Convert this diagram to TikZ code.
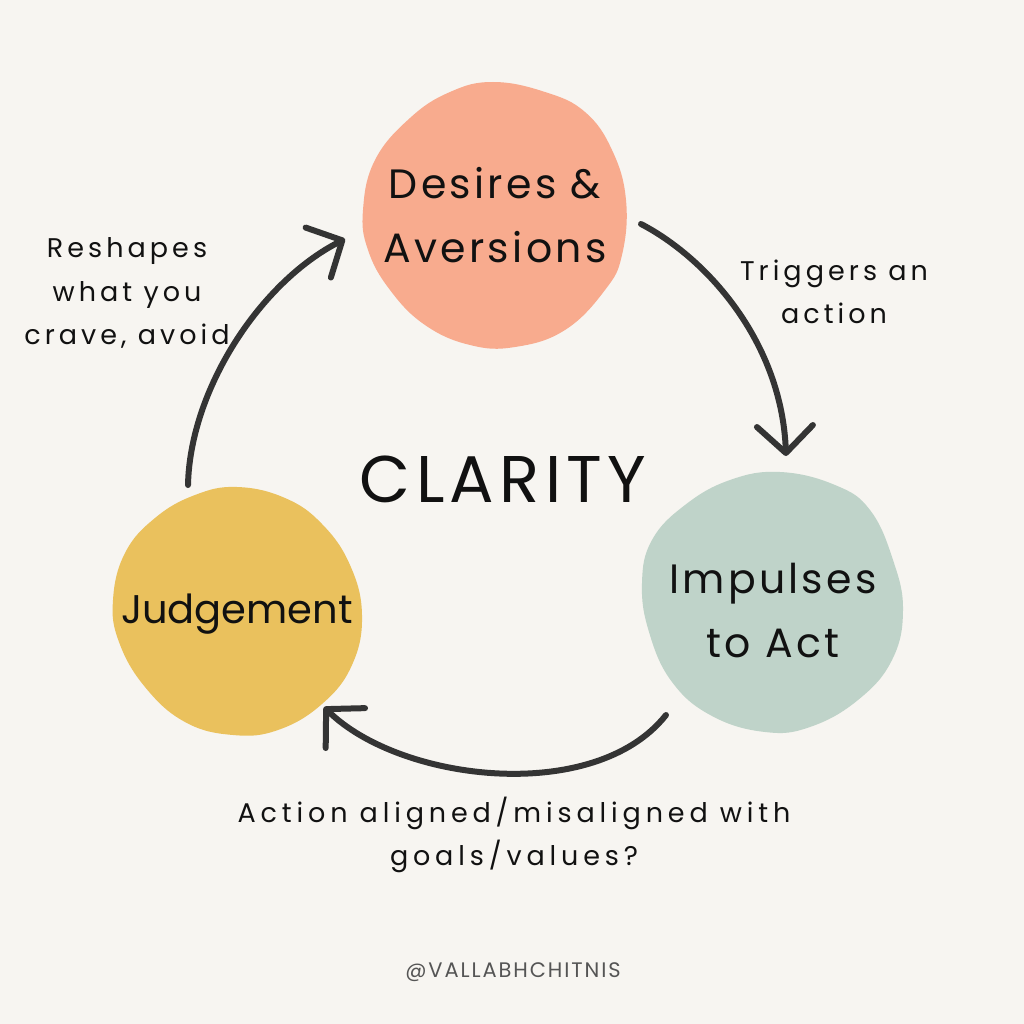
\documentclass[tikz,border=0pt]{standalone}
\usepackage{fontspec}
\usetikzlibrary{arrows.meta}
\newfontfamily\pop[LetterSpace=8]{Poppins}
\newfontfamily\popj[LetterSpace=0]{Poppins}
\newfontfamily\popw[LetterSpace=15]{Poppins}
\newfontfamily\popb[LetterSpace=18]{Poppins}
\newfontfamily\popc[LetterSpace=8]{Poppins}
\newfontfamily\popf[LetterSpace=9]{Poppins}
\definecolor{bg}{RGB}{247,245,241}
\definecolor{salmon}{RGB}{248,171,142}
\definecolor{sage}{RGB}{191,211,201}
\definecolor{mustard}{RGB}{234,193,93}
\definecolor{ink}{RGB}{17,17,17}
\definecolor{arrowc}{RGB}{52,52,52}
\definecolor{footc}{RGB}{85,85,85}
\tikzset{
  blobtext/.style={inner sep=0pt, align=center, text=ink, font=\pop\fontsize{41}{64}\selectfont},
  smalltext/.style={inner sep=0pt, align=center, text=ink, font=\popw\fontsize{27}{43.5}\selectfont},
  curvearrow/.style={draw=arrowc, line width=6pt, line cap=round, line join=round,
    -{Straight Barb[length=27pt, width=56pt, line cap=round, line join=round]}},
}
\begin{document}
\begin{tikzpicture}[x=1pt, y=-1pt]
\useasboundingbox (0,0) rectangle (1024,1024);
\fill[bg] (0,0) rectangle (1024,1024);
% blobs
\fill[salmon] plot[smooth cycle, tension=0.7] coordinates {
 (493,82) (545,92) (585,112) (612,150) (626,200) (622,255) (605,290) (565,330) (515,347) (470,345) (425,325) (390,290) (368,250) (363,210) (375,160) (410,118) (450,92)};
\fill[sage] plot[smooth cycle, tension=0.7] coordinates {
 (780,472) (835,485) (870,510) (893,560) (903,610) (892,660) (858,700) (810,727) (765,732) (712,716) (672,682) (649,632) (642,583) (652,540) (685,505) (730,480)};
\fill[mustard] plot[smooth cycle, tension=0.7] coordinates {
 (237,487) (285,498) (322,524) (350,565) (362,615) (352,665) (322,704) (278,730) (233,735) (185,722) (145,687) (119,642) (113,600) (125,553) (155,518) (195,495)};
% labels in blobs
\node[blobtext] (des) at (495,215) {Desires \&\\Aversions};
\node[blobtext] (imp) at (773,611) {Impulses\\to Act};
\node[blobtext, font=\popj\fontsize{40}{64}\selectfont, anchor=base] (jud) at (237,623) {Judgement};
\node[inner sep=0pt, text=ink, font=\popc\fontsize{66}{70}\selectfont, anchor=base] (cla) at (503,502) {CLARITY};
% side labels
\node[smalltext] (l1) at (127,293) {Reshapes\\what you\\crave, avoid};
\node[smalltext] (l2) at (834,292) {Triggers an\\action};
\node[smalltext, font=\popb\fontsize{27}{43.5}\selectfont] (l3) at (514,835) {Action aligned/misaligned with\\goals/values?};
\node[inner sep=0pt, text=footc, font=\popf\fontsize{21}{24}\selectfont, anchor=base] (foot) at (513,977) {@VALLABHCHITNIS};
% arrow ends
\coordinate (a1s) at (188,485);
\coordinate (a1e) at (345,239);
\coordinate (a2s) at (641,224);
\coordinate (a2e) at (786,456);
\coordinate (a3s) at (666,715);
\coordinate (a3e) at (324,707);
\draw[curvearrow] (a1s) .. controls (190,390) and (260,282) .. (a1e);
\draw[curvearrow] (a2s) .. controls (710,260) and (782,345) .. (a2e);
\draw[curvearrow] (a3s) .. controls (595,805) and (400,782) .. (a3e);
\end{tikzpicture}
\end{document}
